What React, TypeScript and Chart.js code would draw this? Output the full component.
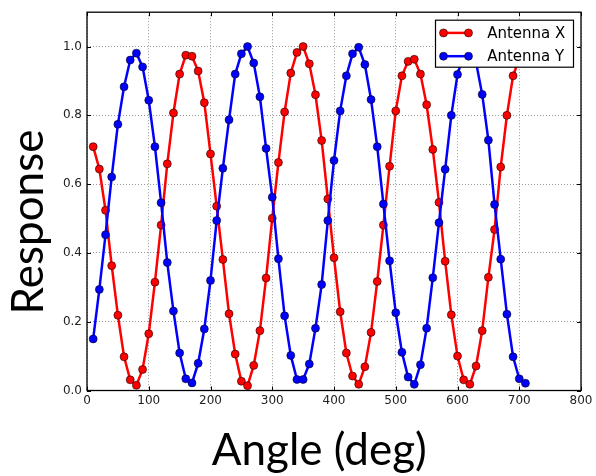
import React, { useEffect, useRef } from "react";
import { Chart, registerables } from "chart.js";

Chart.register(...registerables);

const ANGLES = [
  10, 20, 30, 40, 50, 60, 70, 80, 90, 100,
  110, 120, 130, 140, 150, 160, 170, 180, 190, 200,
  210, 220, 230, 240, 250, 260, 270, 280, 290, 300,
  310, 320, 330, 340, 350, 360, 370, 380, 390, 400,
  410, 420, 430, 440, 450, 460, 470, 480, 490, 500,
  510, 520, 530, 540, 550, 560, 570, 580, 590, 600,
  610, 620, 630, 640, 650, 660, 670, 680, 690, 700,
  710,
];

const ANTENNA_X = [
  0.709, 0.644, 0.524, 0.363, 0.219, 0.098, 0.031, 0.015, 0.061, 0.165,
  0.315, 0.481, 0.659, 0.807, 0.920, 0.975, 0.972, 0.929, 0.837, 0.688,
  0.536, 0.381, 0.223, 0.106, 0.027, 0.014, 0.073, 0.174, 0.327, 0.501,
  0.663, 0.810, 0.923, 0.983, 1.000, 0.950, 0.860, 0.727, 0.557, 0.386,
  0.229, 0.109, 0.042, 0.018, 0.069, 0.169, 0.317, 0.481, 0.652, 0.813,
  0.915, 0.957, 0.963, 0.920, 0.831, 0.701, 0.547, 0.376, 0.220, 0.100,
  0.031, 0.018, 0.071, 0.174, 0.329, 0.468, 0.650, 0.800, 0.915, 0.965,
  0.985,
];

const ANTENNA_Y = [
  0.150, 0.294, 0.453, 0.621, 0.774, 0.883, 0.961, 0.981, 0.941, 0.844,
  0.709, 0.546, 0.372, 0.231, 0.109, 0.034, 0.022, 0.079, 0.179, 0.320,
  0.494, 0.646, 0.787, 0.920, 0.979, 1.000, 0.952, 0.854, 0.704, 0.562,
  0.383, 0.217, 0.102, 0.032, 0.032, 0.077, 0.181, 0.308, 0.494, 0.669,
  0.813, 0.915, 0.979, 0.998, 0.948, 0.846, 0.709, 0.542, 0.377, 0.226,
  0.111, 0.039, 0.018, 0.075, 0.181, 0.328, 0.488, 0.643, 0.800, 0.919,
  0.975, 0.990, 0.955, 0.861, 0.728, 0.541, 0.382, 0.222, 0.098, 0.034,
  0.021,
];

const SERIES_NAMES = ["Antenna X", "Antenna Y"];
const SERIES_COLORS = ["#ff0000", "#0000ff"];
const X_TICKS = [0, 100, 200, 300, 400, 500, 600, 700, 800];
const Y_TICKS = [0.0, 0.2, 0.4, 0.6, 0.8, 1.0];
const X_TITLE = "Angle (deg)";
const Y_TITLE = "Response";

const TITLE_FONT = "44px Lato";
const TICK_FONT_FAMILY = "'DejaVu Sans'";

const framePlugin = {
  id: "frameAndLegend",
  afterDatasetsDraw(chart: any) {
    const { ctx, chartArea, scales } = chart;
    const { left, right, top, bottom } = chartArea;
    ctx.save();
    // inward tick marks
    ctx.strokeStyle = "#000";
    ctx.lineWidth = 1;
    ctx.beginPath();
    for (const v of X_TICKS) {
      const px = Math.round(scales.x.getPixelForValue(v)) + 0.5;
      ctx.moveTo(px, bottom);
      ctx.lineTo(px, bottom - 4);
      ctx.moveTo(px, top);
      ctx.lineTo(px, top + 4);
    }
    for (const v of Y_TICKS) {
      const py = Math.round(scales.y.getPixelForValue(v)) + 0.5;
      ctx.moveTo(left, py);
      ctx.lineTo(left + 4, py);
      ctx.moveTo(right, py);
      ctx.lineTo(right - 4, py);
    }
    ctx.stroke();
    // frame
    ctx.lineWidth = 1.3;
    ctx.strokeRect(left, top, right - left, bottom - top);

    // legend
    const bx = right - 7.5 - 138;
    const by = top + 8;
    const bw = 138;
    const bh = 47;
    ctx.fillStyle = "#fff";
    ctx.fillRect(bx, by, bw, bh);
    ctx.lineWidth = 1.2;
    ctx.strokeStyle = "#000";
    ctx.strokeRect(bx, by, bw, bh);
    const rows = [by + 12.7, by + 36];
    SERIES_NAMES.forEach((name, i) => {
      const y = rows[i];
      const x0 = bx + 8;
      const x1 = bx + 33;
      ctx.strokeStyle = SERIES_COLORS[i];
      ctx.lineWidth = 2.5;
      ctx.beginPath();
      ctx.moveTo(x0, y);
      ctx.lineTo(x1, y);
      ctx.stroke();
      for (const px of [x0, x1]) {
        ctx.beginPath();
        ctx.arc(px, y, 4, 0, Math.PI * 2);
        ctx.fillStyle = SERIES_COLORS[i];
        ctx.fill();
        ctx.lineWidth = 0.8;
        ctx.strokeStyle = "rgba(0,0,0,0.7)";
        ctx.stroke();
      }
      ctx.fillStyle = "#000";
      ctx.font = "15px " + TICK_FONT_FAMILY;
      ctx.textAlign = "left";
      ctx.textBaseline = "middle";
      ctx.fillText(name, bx + 51.7, y + 1);
    });
    ctx.restore();
  },
  afterDraw(chart: any) {
    const { ctx } = chart;
    ctx.save();
    ctx.fillStyle = "#000";
    ctx.font = TITLE_FONT;
    ctx.textAlign = "center";
    ctx.textBaseline = "alphabetic";
    ctx.fillText(X_TITLE, 319.3, 465);
    ctx.translate(43, 222);
    ctx.rotate(-Math.PI / 2);
    ctx.fillText(Y_TITLE, 0, 0);
    ctx.restore();
  },
};

export default function App() {
  const ref = useRef<HTMLCanvasElement | null>(null);
  useEffect(() => {
    if (!ref.current) return;
    const makeDs = (i: number, values: number[], order: number) => ({
      label: SERIES_NAMES[i],
      data: ANGLES.map((a, k) => ({ x: a, y: values[k] })),
      borderColor: SERIES_COLORS[i],
      backgroundColor: SERIES_COLORS[i],
      pointBackgroundColor: SERIES_COLORS[i],
      pointBorderColor: "rgba(0,0,0,0.7)",
      pointBorderWidth: 0.8,
      pointRadius: 4,
      borderWidth: 2.5,
      tension: 0,
      fill: false,
      order,
    });
    const chart = new Chart(ref.current, {
      type: "line",
      data: {
        datasets: [makeDs(0, ANTENNA_X, 1), makeDs(1, ANTENNA_Y, 0)],
      },
      plugins: [framePlugin],
      options: {
        animation: false,
        responsive: false,
        events: [],
        layout: { padding: { left: 0, top: 6, right: 15, bottom: 0 } },
        plugins: { legend: { display: false }, tooltip: { enabled: false } },
        scales: {
          x: {
            type: "linear",
            min: 0,
            max: 800,
            afterFit: (s: any) => {
              s.height = 85.5;
            },
            afterBuildTicks: (s: any) => {
              s.ticks = X_TICKS.map((v) => ({ value: v }));
            },
            ticks: {
              padding: 3,
              color: "#222",
              font: { family: TICK_FONT_FAMILY, size: 12 },
              callback: (v: any) => String(v),
            },
            grid: { color: "#999", lineWidth: 1, drawTicks: false },
            border: { display: false, dash: [1, 2] },
          },
          y: {
            type: "linear",
            min: 0,
            max: 1.1,
            afterFit: (s: any) => {
              s.width = 87;
            },
            afterBuildTicks: (s: any) => {
              s.ticks = Y_TICKS.map((v) => ({ value: v }));
            },
            ticks: {
              padding: 5,
              color: "#222",
              font: { family: TICK_FONT_FAMILY, size: 12 },
              callback: (v: any) => Number(v).toFixed(1),
            },
            grid: { color: "#999", lineWidth: 1, drawTicks: false },
            border: { display: false, dash: [1, 2] },
          },
        },
      },
    });
    return () => chart.destroy();
  }, []);
  return (
    <div style={{ position: "fixed", left: 0, top: 0, width: 596, height: 476, background: "#fff" }}>
      <canvas ref={ref} width={596} height={476} style={{ width: 596, height: 476 }} />
    </div>
  );
}
